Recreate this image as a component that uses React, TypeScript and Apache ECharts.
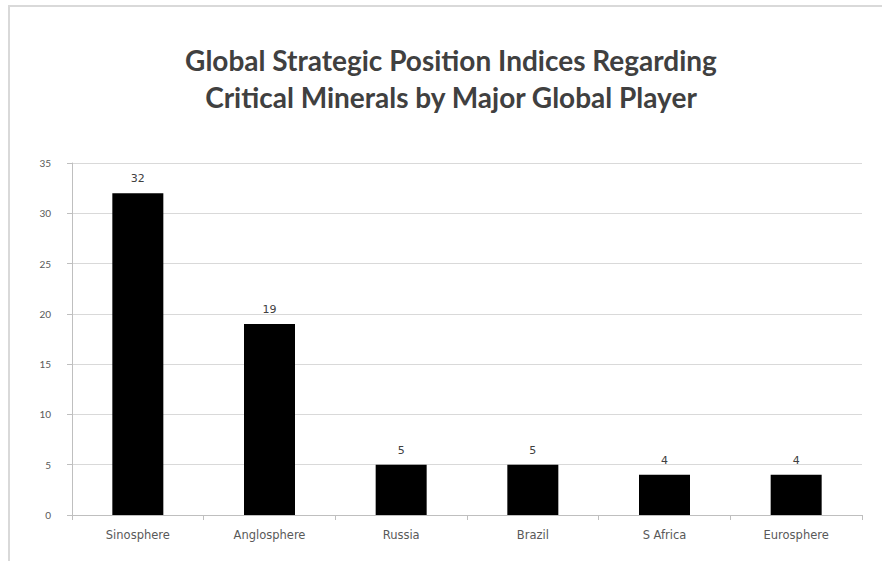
import React, { useEffect, useRef } from "react";
import * as echarts from "echarts";

const categories = ["Sinosphere", "Anglosphere", "Russia", "Brazil", "S Africa", "Eurosphere"];
const values = [32, 19, 5, 5, 4, 4];
const titleLines = ["Global Strategic Position Indices Regarding", "Critical Minerals by Major Global Player"];

export default function App() {
  const ref = useRef<HTMLDivElement>(null);
  useEffect(() => {
    const chart = echarts.init(ref.current!, null, { renderer: "svg" });
    chart.setOption({
      animation: false,
      backgroundColor: "#ffffff",
      title: {
        text: titleLines.join("\n"),
        left: 446,
        textAlign: "center",
        top: 36,
        textStyle: {
          fontFamily: "Lato",
          fontWeight: "bold",
          fontSize: 28,
          lineHeight: 37,
          color: "#404040",
        },
      },
      graphic: [
        {
          type: "rect",
          shape: { x: 9, y: 6, width: 880, height: 570 },
          style: { fill: "none", stroke: "#d9d9d9", lineWidth: 2 },
          silent: true,
        },
      ],
      grid: { left: 72, right: 20, top: 163, bottom: 46, containLabel: false },
      xAxis: {
        type: "category",
        data: categories,
        axisLine: { show: true, lineStyle: { color: "#bfbfbf", width: 1 } },
        axisTick: { show: true, alignWithLabel: false, length: 5, lineStyle: { color: "#bfbfbf" } },
        axisLabel: { color: "#595959", fontSize: 11.5, fontFamily: "DejaVu Sans", margin: 14 },
      },
      yAxis: {
        type: "value",
        min: 0,
        max: 35,
        interval: 5,
        axisLine: { show: true, lineStyle: { color: "#bfbfbf", width: 1 } },
        axisTick: { show: true, length: 5, lineStyle: { color: "#bfbfbf" } },
        axisLabel: { color: "#595959", fontSize: 10, fontFamily: "Lato", margin: 21 },
        splitLine: { show: true, lineStyle: { color: "#d9d9d9", width: 1 } },
      },
      series: [
        {
          type: "bar",
          data: values,
          barWidth: 51,
          itemStyle: { color: "#000000" },
          label: {
            show: true,
            position: "top",
            distance: 9,
            color: "#404040",
            fontSize: 11,
            fontFamily: "DejaVu Sans",
          },
        },
      ],
    });
    return () => chart.dispose();
  }, []);
  return <div ref={ref} style={{ position: "fixed", left: 0, top: 0, width: 882, height: 561 }} />;
}
